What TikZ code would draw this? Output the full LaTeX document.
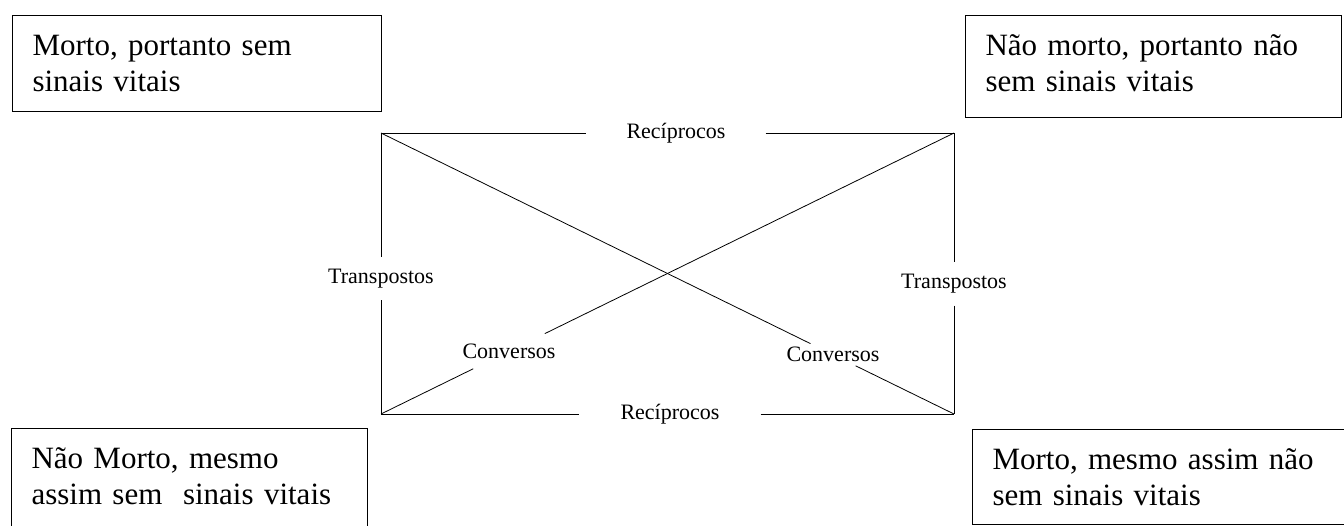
\documentclass[tikz,border=0pt]{standalone}
\usepackage{fontspec}
\setmainfont{Liberation Serif}
\usepackage{tikz}
\usetikzlibrary{positioning}

\begin{document}
\begin{tikzpicture}[x=1pt, y=-1pt, box/.style={draw, line width=1pt, anchor=north west, align=left, inner xsep=20pt, inner ysep=15pt, text height=25pt, font=\fontsize{31}{36}\selectfont}, lbl/.style={font=\fontsize{22}{26}\selectfont, inner sep=3pt}, ln/.style={line width=0.8pt}]
\useasboundingbox (0,0) rectangle (1344,525);
\clip (0,0) rectangle (1344,525);
\coordinate (tl) at (381,133);
\coordinate (tr) at (954,133);
\coordinate (bl) at (381,414);
\coordinate (br) at (954,414);
\node[box, text width=329pt, text depth=41pt] (morto) at (12,15) {Morto, portanto sem\\sinais vitais};
\node[box, text width=336pt, text depth=47pt] (naomorto) at (965,15) {Não morto, portanto não\\sem sinais vitais};
\node[box, text width=316pt, text depth=62pt] (naomortosem) at (11,428) {Não Morto, mesmo\\assim sem~ sinais vitais};
\node[box, text width=348pt, text depth=40pt] (mortonao) at (972,429) {Morto, mesmo assim não\\sem sinais vitais};
\node[lbl, inner xsep=40pt] (rectop) at (676,133) {Recíprocos};
\node[lbl, inner xsep=41pt] (recbot) at (670,414) {Recíprocos};
\node[lbl, inner ysep=12pt] (trleft) at (381,278.5) {Transpostos};
\node[lbl, inner ysep=12pt] (trright) at (954,284) {Transpostos};
\node[lbl, inner ysep=10pt] (convleft) at (509,351.2) {Conversos};
\node[lbl, inner ysep=3.5pt] (convright) at (833,354.7) {Conversos};
\draw[ln] (tl) -- (rectop) (rectop) -- (tr);
\draw[ln] (bl) -- (recbot) (recbot) -- (br);
\draw[ln] (tl) -- (trleft) (trleft) -- (bl);
\draw[ln] (tr) -- (trright) (trright) -- (br);
\draw[ln] (bl) -- (convleft) (convleft) -- (tr);
\draw[ln] (tl) -- (convright) (convright) -- (br);
\end{tikzpicture}
\end{document}
